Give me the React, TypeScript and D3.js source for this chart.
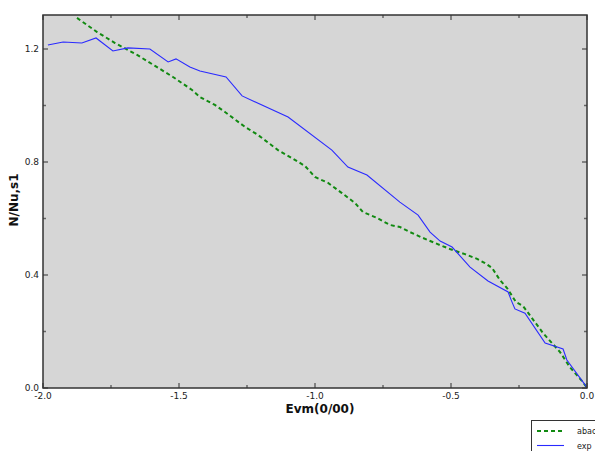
import React, { useEffect, useRef } from 'react';
import * as d3 from 'd3';

// abac curve (green dashed)
const abacX = [-1.875, -1.801, -1.735, -1.654, -1.588, -1.522, -1.452, -1.423, -1.368, -1.331, -1.257, -1.21, -1.136, -1.085, -1.037, -1.0, -0.952, -0.901, -0.853, -0.824, -0.772, -0.724, -0.688, -0.651, -0.603, -0.551, -0.504, -0.449, -0.404, -0.375, -0.349, -0.32, -0.294, -0.261, -0.235, -0.162, -0.099, -0.063, -0.015, 0];
const abacY = [1.31, 1.26, 1.221, 1.179, 1.14, 1.101, 1.055, 1.03, 1.002, 0.977, 0.924, 0.896, 0.842, 0.814, 0.786, 0.747, 0.726, 0.69, 0.655, 0.623, 0.602, 0.577, 0.57, 0.552, 0.531, 0.51, 0.492, 0.474, 0.457, 0.442, 0.425, 0.382, 0.354, 0.304, 0.29, 0.195, 0.127, 0.074, 0.021, 0];

// exp curve (blue solid)
const expX = [-1.982, -1.926, -1.857, -1.805, -1.743, -1.688, -1.607, -1.54, -1.511, -1.46, -1.423, -1.327, -1.268, -1.099, -0.938, -0.879, -0.809, -0.688, -0.621, -0.577, -0.54, -0.496, -0.43, -0.364, -0.29, -0.279, -0.265, -0.228, -0.154, -0.088, -0.074, -0.007, 0];
const expY = [1.214, 1.225, 1.221, 1.239, 1.193, 1.204, 1.2, 1.154, 1.165, 1.136, 1.122, 1.101, 1.034, 0.959, 0.842, 0.782, 0.754, 0.658, 0.612, 0.552, 0.52, 0.499, 0.428, 0.379, 0.34, 0.312, 0.28, 0.265, 0.159, 0.138, 0.099, 0.011, 0];

const xMajor = [-2.0, -1.5, -1.0, -0.5, 0.0];
const xMinor = [-1.75, -1.25, -0.75, -0.25];
const yMajor = [0.0, 0.4, 0.8, 1.2];
const yMinor = [0.2, 0.6, 1.0];

const legendNames = ['abac', 'exp'];

function App() {
  const ref = useRef<SVGSVGElement>(null);

  useEffect(() => {
    const width = 595, height = 451;
    const left = 43, right = 587, top = 15, bottom = 388;

    const svg = d3.select(ref.current);
    svg.selectAll('*').remove();

    const x = d3.scaleLinear().domain([-2, 0]).range([left, right]);
    const y = d3.scaleLinear().domain([0, 1.2]).range([bottom, bottom - 1.2 * 282.5]);

    svg.append('rect')
      .attr('x', left).attr('y', top)
      .attr('width', right - left).attr('height', bottom - top)
      .attr('fill', '#d6d6d6');

    const clip = svg.append('clipPath').attr('id', 'plotclip');
    clip.append('rect').attr('x', left).attr('y', top)
      .attr('width', right - left).attr('height', bottom - top);

    const line = d3.line<[number, number]>().x(d => x(d[0])).y(d => y(d[1]));
    const abac = abacX.map((v, i) => [v, abacY[i]] as [number, number]);
    const exp = expX.map((v, i) => [v, expY[i]] as [number, number]);

    const g = svg.append('g').attr('clip-path', 'url(#plotclip)');
    g.append('path').attr('d', line(abac)!)
      .attr('fill', 'none').attr('stroke', '#118a11')
      .attr('stroke-width', 2).attr('stroke-dasharray', '4,3');
    g.append('path').attr('d', line(exp)!)
      .attr('fill', 'none').attr('stroke', '#2a2aff')
      .attr('stroke-width', 1.1);

    // ticks (inside, on all four sides)
    const tickColor = '#666';
    const ticks = svg.append('g').attr('stroke', tickColor).attr('stroke-width', 1.5);
    xMajor.concat(xMinor).forEach(v => {
      const len = xMajor.includes(v) ? 5 : 3;
      ticks.append('line').attr('x1', x(v)).attr('x2', x(v)).attr('y1', bottom).attr('y2', bottom - len);
      ticks.append('line').attr('x1', x(v)).attr('x2', x(v)).attr('y1', top).attr('y2', top + len);
    });
    yMajor.concat(yMinor).forEach(v => {
      const len = yMajor.includes(v) ? 5 : 3;
      ticks.append('line').attr('y1', y(v)).attr('y2', y(v)).attr('x1', left).attr('x2', left + len);
      ticks.append('line').attr('y1', y(v)).attr('y2', y(v)).attr('x1', right).attr('x2', right - len);
    });

    // frame
    svg.append('rect')
      .attr('x', left).attr('y', top)
      .attr('width', right - left).attr('height', bottom - top)
      .attr('fill', 'none').attr('stroke', '#333').attr('stroke-width', 1.5);

    const font = 'DejaVu Sans, sans-serif';
    svg.append('g').selectAll('text').data(xMajor).enter().append('text')
      .attr('x', d => x(d)).attr('y', bottom + 11)
      .attr('text-anchor', 'middle').attr('font-family', font).attr('font-size', 9)
      .attr('fill', '#222')
      .text(d => d.toFixed(1));
    svg.append('g').selectAll('text').data(yMajor).enter().append('text')
      .attr('x', left - 4).attr('y', d => y(d) + 3)
      .attr('text-anchor', 'end').attr('font-family', font).attr('font-size', 9)
      .attr('fill', '#222')
      .text(d => d.toFixed(1));

    svg.append('text')
      .attr('x', 320).attr('y', 413)
      .attr('text-anchor', 'middle').attr('font-family', font)
      .attr('font-size', 12).attr('font-weight', 'bold').attr('fill', '#111')
      .text('Evm(0/00)');
    svg.append('text')
      .attr('transform', 'translate(18,200) rotate(-90)')
      .attr('text-anchor', 'middle').attr('font-family', font)
      .attr('font-size', 12).attr('font-weight', 'bold').attr('fill', '#111')
      .text('N/Nu,s1');

    // legend
    const lg = svg.append('g');
    lg.append('rect').attr('x', 531.5).attr('y', 420.5).attr('width', 80).attr('height', 40)
      .attr('fill', '#fff').attr('stroke', '#333').attr('stroke-width', 1);
    lg.append('line').attr('x1', 537).attr('x2', 562).attr('y1', 431).attr('y2', 431)
      .attr('stroke', '#118a11').attr('stroke-width', 2).attr('stroke-dasharray', '4,3');
    lg.append('line').attr('x1', 537).attr('x2', 564).attr('y1', 445.5).attr('y2', 445.5)
      .attr('stroke', '#2a2aff').attr('stroke-width', 1.1);
    legendNames.forEach((n, i) => {
      lg.append('text').attr('x', 577).attr('y', 434 + i * 14.5)
        .attr('font-family', font).attr('font-size', 8).attr('fill', '#222').text(n);
    });

    svg.attr('width', width).attr('height', height);
  }, []);

  return (
    <svg ref={ref} width={595} height={451}
      style={{ position: 'absolute', left: 0, top: 0, background: '#fff' }} />
  );
}

export default App;
